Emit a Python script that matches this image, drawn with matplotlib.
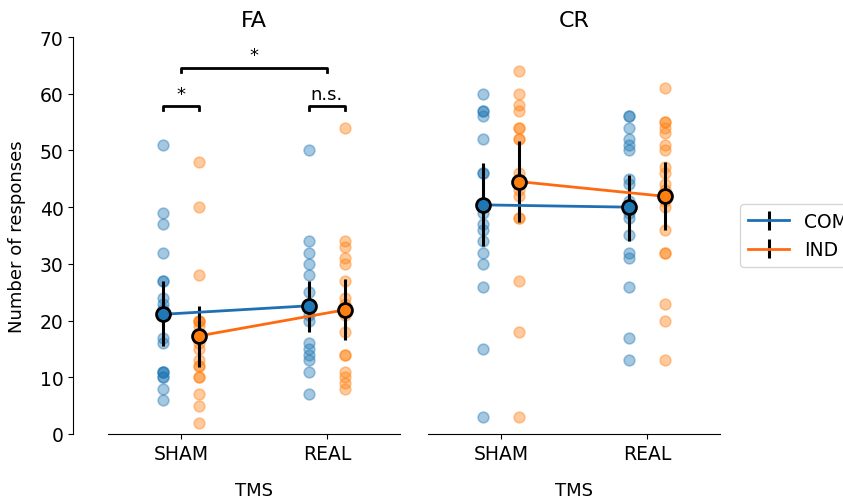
import numpy as np
import matplotlib.pyplot as plt

# conditions / groups
tms = ['SHAM', 'REAL']
groups = ['COM', 'IND']
colors = {'COM': '#1f77b4', 'IND': '#ff7f0e'}
line_colors = {'COM': '#1f6fb4', 'IND': '#ff6a10'}

# individual responses
fa_sham_com = [51, 39, 37, 32, 27, 27, 24, 23, 22, 17, 16, 11, 11, 11, 10, 10, 8, 6]
fa_sham_ind = [48, 40, 28, 20, 20, 20, 19, 17, 16, 15, 13, 12, 12, 10, 10, 7, 5, 2]
fa_real_com = [50, 34, 32, 30, 28, 25, 23, 21, 20, 16, 15, 14, 13, 11, 7]
fa_real_ind = [54, 34, 33, 31, 30, 27, 24, 23, 21, 18, 14, 14, 11, 10, 9, 8]
cr_sham_com = [60, 57, 57, 56, 52, 46, 46, 39, 37, 36, 34, 32, 30, 26, 15, 3]
cr_sham_ind = [64, 60, 58, 57, 54, 54, 52, 52, 46, 45, 44, 43, 42, 38, 38, 27, 18, 3]
cr_real_com = [56, 56, 54, 52, 51, 50, 45, 44, 41, 39, 38, 35, 32, 31, 26, 17, 13]
cr_real_ind = [61, 55, 55, 54, 53, 51, 50, 47, 46, 44, 43, 41, 40, 36, 32, 32, 23, 20, 13]

# means and error bar limits (low, high), order SHAM, REAL
fa_mean = {'COM': [21.1, 22.6], 'IND': [17.3, 21.9]}
fa_low = {'COM': [15.6, 17.9], 'IND': [11.8, 16.5]}
fa_high = {'COM': [27.0, 27.0], 'IND': [22.6, 27.3]}
cr_mean = {'COM': [40.4, 40.0], 'IND': [44.5, 41.9]}
cr_low = {'COM': [33.1, 34.1], 'IND': [37.3, 36.0]}
cr_high = {'COM': [47.8, 45.7], 'IND': [51.7, 48.0]}

points = {
    'FA': {'COM': [fa_sham_com, fa_real_com], 'IND': [fa_sham_ind, fa_real_ind]},
    'CR': {'COM': [cr_sham_com, cr_real_com], 'IND': [cr_sham_ind, cr_real_ind]},
}
stats = {'FA': (fa_mean, fa_low, fa_high), 'CR': (cr_mean, cr_low, cr_high)}
offset = {'COM': -0.125, 'IND': 0.125}

fig = plt.figure(figsize=(8.43, 5.02), dpi=100)
ax1 = fig.add_axes([0.128, 0.1335, 0.3464, 0.7908])
ax2 = fig.add_axes([0.5077, 0.1335, 0.3464, 0.7908], sharey=ax1)

for ax, meas in [(ax1, 'FA'), (ax2, 'CR')]:
    mean, low, high = stats[meas]
    for g in groups:
        for i in range(2):
            y = points[meas][g][i]
            x = np.full(len(y), i + offset[g])
            ax.scatter(x, y, s=60, color=colors[g], alpha=0.4, linewidths=1.2, zorder=2)
    for g in groups:
        xm = np.arange(2) + offset[g]
        m = np.array(mean[g])
        err = [m - np.array(low[g]), np.array(high[g]) - m]
        ax.errorbar(xm, m, yerr=err, fmt='-', color=line_colors[g], lw=2,
                    ecolor='k', elinewidth=2.2, capsize=0, label=g, zorder=3)
        ax.plot(xm, m, 'o', ms=10, mfc=colors[g], mec='k', mew=2, zorder=4)
    ax.set_xlim(-0.5, 1.5)
    ax.set_xticks([0, 1])
    ax.set_xticklabels(tms, fontsize=13.5)
    ax.set_xlabel('TMS', fontsize=13, labelpad=13)
    ax.set_title(meas, fontsize=16, pad=8)
    ax.spines['top'].set_visible(False)
    ax.spines['right'].set_visible(False)

ax1.set_ylim(0, 70)
ax1.set_yticks(range(0, 71, 10))
ax1.tick_params(axis='y', labelsize=13.5)
ax1.spines['left'].set_position(('outward', 25))
ax1.set_ylabel('Number of responses', fontsize=13, labelpad=10)
ax2.spines['left'].set_visible(False)
ax2.tick_params(axis='y', left=False, labelleft=False)

# significance brackets
def bracket(ax, x0, x1, y, text, h=0.7):
    ax.plot([x0, x0, x1, x1], [y - h, y, y, y - h], color='k', lw=2, clip_on=False)
    ax.text((x0 + x1) / 2, y + 0.6, text, ha='center', va='bottom', fontsize=13)

bracket(ax1, 0, 1, 64.6, '*')
bracket(ax1, -0.125, 0.125, 57.8, '*')
bracket(ax1, 0.875, 1.125, 57.8, 'n.s.')

ax2.legend(loc='center left', bbox_to_anchor=(1.07, 0.5), borderaxespad=0,
           fontsize=13.5, handlelength=2.2, handletextpad=0.8)

fig.savefig('out.png', dpi=100)
